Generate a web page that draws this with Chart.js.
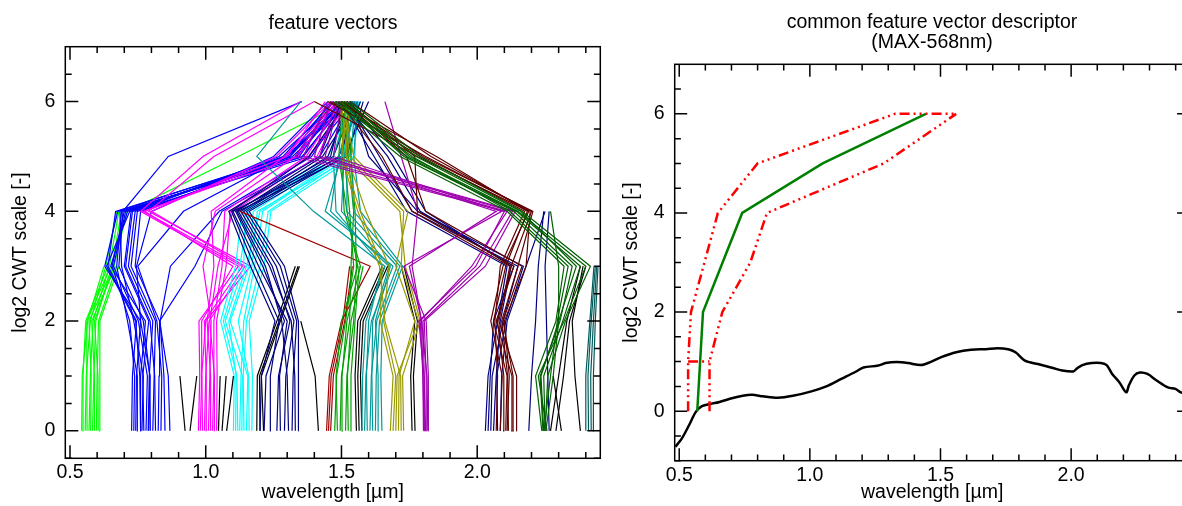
<!DOCTYPE html>
<html><head><meta charset="utf-8">
<script src="https://cdn.jsdelivr.net/npm/chart.js@4.4.1/dist/chart.umd.min.js"></script>
<style>
html,body{margin:0;padding:0;background:#fff;overflow:hidden;width:1182px;height:506px;position:relative;}
#c1{position:absolute;left:0;top:0;}
#c2{position:absolute;left:600px;top:0;}
</style></head><body>
<canvas id="c1" width="666" height="506"></canvas>
<canvas id="c2" width="664" height="506"></canvas>
<script>
// ---------- axis / tick data ----------
const xMin = 0.4827, xMax = 2.4534;
const xTickLabels = [0.5, 1.0, 1.5, 2.0];
const yTickLabels = [0, 2, 4, 6];
const levels = [0, 1, 2, 3, 4, 5, 6];

// ---------- left panel: feature vectors (x wavelength per CWT level; index = level) ----------
const limeLines = [
  [0.543,0.545,0.565,0.625],
  [0.550,0.548,0.558,0.640],
  [0.556,0.560,0.575,0.632,0.672],
  [0.563,0.562,0.562,0.650],
  [0.570,0.575,0.585,0.645,0.680],
  [0.576,0.578,0.570,0.660],
  [0.583,0.588,0.595,0.655,0.690],
  [0.590,0.590,0.580,0.668],
  [0.597,0.600,0.605,0.672],
  [0.604,0.603,0.590,0.662,0.710,1.120,1.520],
  [0.608,0.610,0.610,0.680]
];
const blueLines = [
  [0.727,0.730,0.745,0.640,0.668,1.310,1.460],
  [0.735,0.738,0.720,0.655,0.700,1.335,1.500],
  [0.742,0.745,0.760,0.628,0.676,1.300,1.520],
  [0.750,0.748,0.712,0.672,0.690,1.345,1.480],
  [0.758,0.760,0.778,0.650,0.712,1.320,1.530],
  [0.765,0.770,0.735,0.690,0.684,1.360,1.510],
  [0.772,0.768,0.790,0.700,0.725,1.290,1.540],
  [0.780,0.785,0.752,0.660,0.705,1.340,1.500],
  [0.788,0.792,0.805,0.715,0.740,1.270,1.490],
  [0.796,0.794,0.770,0.680,0.695,0.862,1.354],
  [0.805,0.810,0.815,0.725,0.748,1.355,1.520],
  [0.815,0.812,0.795,0.705,0.730,1.380,1.545],
  [0.825,0.828,0.830,0.740,0.760,1.310,1.505],
  [0.835,0.838,0.820,0.750,0.918,1.300,1.500],
  [0.850,0.846,0.832,0.870,1.050,1.390,1.520],
  [0.868,0.862,0.830,0.960,1.060,1.420,1.540],
  [0.760,0.757,0.742,0.635,0.720,1.285,1.470],
  [0.790,0.795,0.760,0.745,0.800,1.250,1.450]
];
const magentaLines = [
  [0.973,0.978,0.975,1.120,0.760,0.990,1.350],
  [0.980,0.985,1.000,1.165,0.790,1.030,1.400],
  [0.988,0.986,0.985,1.100,0.775,1.300,1.440],
  [0.995,1.000,1.012,1.145,0.800,1.260,1.460],
  [1.003,1.002,0.995,1.135,0.770,1.340,1.480],
  [1.010,1.015,1.020,0.990,1.035,1.330,1.470],
  [1.018,1.018,1.005,1.030,1.020,1.290,1.490],
  [1.025,1.030,1.030,1.060,1.070,1.370,1.500],
  [1.033,1.032,1.015,1.045,1.100,1.410,1.510],
  [1.040,1.042,1.040,1.075,1.090,1.380,1.530]
];
const cyanLines = [
  [1.102,1.105,1.055,1.110,1.133,1.500,1.560],
  [1.110,1.112,1.085,1.150,1.200,1.505,1.550],
  [1.118,1.115,1.065,1.125,1.160,1.470,1.540],
  [1.125,1.130,1.140,1.180,1.210,1.515,1.530],
  [1.133,1.135,1.072,1.140,1.145,1.450,1.545],
  [1.141,1.138,1.150,1.200,1.230,1.530,1.560],
  [1.150,1.155,1.090,1.160,1.175,1.490,1.570],
  [1.160,1.158,1.120,1.170,1.190,1.545,1.565],
  [1.170,1.172,1.160,1.215,1.240,1.550,1.555]
];
const blackLines = [
  [0.924,0.905],
  [0.942,0.967],
  [1.047,1.053],
  [1.060,1.075],
  [1.077,1.102],
  [1.188,1.190,1.262,1.330],
  [1.200,1.198,1.270,1.340],
  [1.213,1.205,1.275,1.345],
  [1.415,1.403,1.350],
  [1.555,1.550,1.560,1.650],
  [1.565,1.560,1.570,1.660],
  [1.575,1.570,1.580,1.670],
  [1.760,1.755,1.770,1.720],
  [1.771,1.765,1.780,1.730],
  [2.270,2.300,2.330,2.380],
  [2.290,2.318,2.340,2.400],
  [2.310,2.280],
  [2.380,2.360,2.350,2.390]
];
const navyLines = [
  [1.200,1.205,1.255,1.165,1.085,1.420,1.500],
  [1.215,1.222,1.290,1.210,1.110,1.460,1.510],
  [1.240,1.238,1.270,1.180,1.095,1.380,1.520],
  [1.262,1.268,1.310,1.245,1.130,1.450,1.530],
  [1.275,1.272,1.300,1.195,1.100,1.500,1.540],
  [1.290,1.295,1.325,1.260,1.140,1.470,1.550],
  [1.305,1.300,1.280,1.220,1.115,1.430,1.560],
  [1.318,1.322,1.335,1.275,1.150,1.490,1.570],
  [1.330,1.328,1.315,1.235,1.120,1.520,1.580],
  [1.341,1.342,1.341,1.290,1.160,1.510,1.600],
  [2.030,2.040,2.075,2.110,1.740,1.620,1.500],
  [2.040,2.048,2.060,2.135,1.790,1.670,1.510],
  [2.050,2.055,2.095,2.150,1.760,1.640,1.520],
  [2.060,2.070,2.085,2.125,1.810,1.690,1.530],
  [2.075,2.072,2.105,2.170,1.780,1.600,1.540],
  [2.085,2.090,2.110,2.180,2.250],
  [2.190,2.200,2.215,2.225,2.245],
  [2.265,2.260,2.255,2.250,2.265]
];
const darkRedLines = [
  [1.445,1.455,1.500,1.606,1.126],
  [1.452,1.462,1.505,1.530],
  [1.460,1.470,1.512,1.540]
];
const greenLines = [
  [1.475,1.482,1.515,1.545,1.530,1.510,1.500],
  [1.485,1.480,1.500,1.560,1.520,1.490,1.505],
  [1.495,1.500,1.530,1.535,1.545,1.525,1.510],
  [1.505,1.502,1.520,1.570,1.510,1.500,1.515],
  [1.515,1.520,1.545,1.555,1.550,1.535,1.520],
  [1.525,1.522,1.535,1.580],
  [1.533,1.535,1.550,1.565]
];
const tealLines = [
  [1.575,1.578,1.590,1.660,1.397,1.188,1.350],
  [1.585,1.590,1.610,1.690,1.440,1.500,1.520],
  [1.595,1.592,1.600,1.650,1.480,1.470,1.530],
  [1.605,1.610,1.630,1.705,1.520,1.520,1.540],
  [1.615,1.612,1.615,1.675,1.460,1.490,1.545],
  [1.625,1.628,1.640,1.715,1.545,1.535,1.550],
  [1.637,1.635,1.625,1.680,1.500,1.510,1.555],
  [1.649,1.645,1.650,1.725,1.570,1.545,1.560]
];
const oliveLines = [
  [1.680,1.690,1.643,1.650,1.569,1.507,1.495],
  [1.690,1.700,1.655,1.675,1.590,1.520,1.500],
  [1.700,1.705,1.784,1.720,1.729,1.530,1.510],
  [1.710,1.712,1.770,1.700,1.745,1.545,1.505],
  [1.720,1.718,1.660,1.640,1.560,1.500,1.520],
  [1.729,1.725,1.790,1.735,1.715,1.515,1.530]
];
const purpleLines = [
  [1.802,1.800,1.790,1.980,2.110,1.360,1.450],
  [1.806,1.805,1.800,2.010,2.130,1.400,1.460],
  [1.810,1.804,1.785,1.995,2.100,1.330,1.470],
  [1.814,1.812,1.805,2.030,2.140,1.420,1.480],
  [1.818,1.815,1.795,1.750,2.070,1.440,1.490],
  [1.821,1.820,1.812,1.730,2.090,1.470,1.500],
  [1.805,1.800,1.795,1.760,1.780,1.720,1.660]
];
const maroonLines = [
  [2.085,2.092,2.050,2.095,2.190,1.780,1.400],
  [2.095,2.098,2.075,2.125,2.200,1.810,1.450],
  [2.105,2.110,2.060,2.105,2.185,1.850,1.480],
  [2.115,2.112,2.090,2.150,2.205,1.800,1.500],
  [2.125,2.128,2.070,2.135,1.780,1.770,1.520],
  [2.135,2.132,2.095,2.165,1.810,1.740,1.510],
  [2.146,2.145,2.080,2.120,1.760,1.650,1.490],
  [2.070,2.075,2.065,2.085,2.175,1.790,1.460],
  [2.110,2.118,2.100,2.180,2.195,1.830,1.530]
];
const darkGreenLines = [
  [2.238,2.215,2.290,2.320,2.110,1.716,1.470],
  [2.242,2.232,2.305,2.350,2.135,1.740,1.480],
  [2.246,2.270,2.295,2.335,2.120,1.760,1.490],
  [2.250,2.245,2.315,2.380,2.145,1.730,1.500],
  [2.253,2.280,2.300,2.365,2.160,1.775,1.510],
  [2.257,2.225,2.320,2.400,2.150,1.750,1.520],
  [2.250,2.260,2.325,2.417,2.165,1.790,1.530],
  [2.245,2.235,2.300,2.300,2.270]
];
const darkTealLines = [
  [2.400,2.400,2.415,2.430],
  [2.410,2.408,2.420,2.435],
  [2.420,2.418,2.428,2.440],
  [2.430,2.428,2.435,2.445]
];

// ---------- right panel ----------
const specWl = [0.485,0.509,0.537,0.563,0.587,0.623,0.651,0.694,0.743,0.779,0.820,0.878,0.935,1.006,1.063,1.120,1.177,1.205,1.262,1.290,1.333,1.376,1.425,1.461,1.503,1.560,1.617,1.674,1.717,1.759,1.787,1.823,1.873,1.930,1.965,2.008,2.022,2.043,2.079,2.114,2.136,2.157,2.185,2.211,2.221,2.242,2.263,2.292,2.327,2.370,2.399,2.420,2.450];
const specVal = [-0.72,-0.56,-0.29,-0.02,0.10,0.15,0.18,0.25,0.31,0.33,0.30,0.27,0.31,0.40,0.50,0.65,0.80,0.88,0.92,0.97,0.99,0.97,0.93,0.99,1.09,1.19,1.24,1.25,1.27,1.25,1.19,1.02,0.95,0.87,0.82,0.80,0.86,0.93,0.97,0.97,0.93,0.75,0.58,0.38,0.52,0.72,0.78,0.75,0.62,0.48,0.45,0.38,0.33];
const descWl  = [0.569,0.580,0.591,0.741,1.049,1.444];
const descLvl = [0,1,2,4,5,6];
const upperWl  = [0.534,0.534,0.545,0.648,0.800,1.326,1.560];
const upperLvl = [0,1,2,4,5,6,6];
const lowerWl  = [0.616,0.616,0.665,0.772,0.836,1.283,1.560];
const lowerLvl = [0,1,2,3,4,5,6];
const linkWl   = [0.534,0.616];
const linkLvl  = [1,1];

// ---------- helpers ----------
const FONT = "'Liberation Sans', Arial, Helvetica, sans-serif";
Chart.defaults.font.family = FONT;
Chart.defaults.font.size = 19.5;
Chart.defaults.color = '#000';

function groupDatasets(lines, color) {
  return lines.map(xs => ({
    data: xs.map((x, i) => (x === null ? null : { x: x, y: levels[i] })).filter(p => p),
    borderColor: color, backgroundColor: color, borderWidth: 1.2,
    pointRadius: 0, showLine: true, fill: false, tension: 0
  }));
}
function xy(xs, ys) { return xs.map((x, i) => ({ x: x, y: ys[i] })); }

const framePlugin = {
  id: 'frame',
  afterDatasetsDraw(chart, args, o) {
    const { ctx, chartArea: a } = chart;
    const x = chart.scales.x, y = chart.scales.y;
    ctx.save();
    ctx.strokeStyle = '#000';
    ctx.lineWidth = o.lw;
    ctx.strokeRect(a.left, a.top, a.right - a.left, a.bottom - a.top);
    ctx.beginPath();
    for (let k = 5; k <= 24; k++) {
      const v = k / 10;
      const p = x.getPixelForValue(v);
      const L = xTickLabels.includes(v) ? o.majLen : o.minLen;
      ctx.moveTo(p, a.bottom); ctx.lineTo(p, a.bottom - L);
      ctx.moveTo(p, a.top); ctx.lineTo(p, a.top + L);
    }
    for (let k = o.yk0; k <= 13; k++) {
      const v = k / 2;
      const p = y.getPixelForValue(v);
      const L = yTickLabels.includes(v) ? o.majLen : o.minLen;
      ctx.moveTo(a.left, p); ctx.lineTo(a.left + L, p);
      ctx.moveTo(a.right, p); ctx.lineTo(a.right - L, p);
    }
    ctx.stroke();
    ctx.restore();
  }
};

function makeOptions(cfg) {
  return {
    responsive: false, animation: false, devicePixelRatio: 1,
    layout: { padding: 0 },
    plugins: {
      legend: { display: false }, tooltip: { enabled: false },
      title: { display: true, text: cfg.title, color: '#000',
        font: { size: 19.5, weight: 'normal', lineHeight: '20px' },
        padding: { top: cfg.tTop, bottom: cfg.tBot } },
      frame: { majLen: cfg.majLen, minLen: cfg.minLen, lw: 1.5, yk0: cfg.yk0 }
    },
    scales: {
      x: { type: 'linear', position: 'bottom', min: xMin, max: xMax,
        afterBuildTicks: s => { s.ticks = xTickLabels.map(v => ({ value: v })); },
        afterFit: s => { s.height = cfg.xH; },
        ticks: { padding: cfg.xPad, autoSkip: false, maxRotation: 0, minRotation: 0,
          callback: v => Number(v).toFixed(1), font: { size: 19.5 }, color: '#000' },
        grid: { display: false, drawTicks: false }, border: { display: false },
        title: { display: true, text: 'wavelength [µm]', color: '#000', font: { size: 19.5 },
          padding: { top: 0, bottom: 1.8 } } },
      y: { type: 'linear', position: 'left', min: cfg.yMin, max: 7,
        afterBuildTicks: s => { s.ticks = yTickLabels.map(v => ({ value: v })); },
        afterFit: s => { s.width = cfg.yW; },
        ticks: { padding: 10, autoSkip: false, callback: v => String(v), font: { size: 19.5 }, color: '#000' },
        grid: { display: false, drawTicks: false }, border: { display: false },
        title: { display: true, text: 'log2 CWT scale [-]', color: '#000', font: { size: 19.5 },
          padding: { top: cfg.yTitlePad, bottom: 0 } } },
      yR: { type: 'linear', position: 'right', display: true,
        grid: { display: false, drawTicks: false }, border: { display: false },
        ticks: { display: false }, afterFit: s => { s.width = cfg.rW; } }
    }
  };
}

// ---------- left chart ----------
const groups = [
  [limeLines, '#00FF00'], [blueLines, '#0000FF'], [magentaLines, '#FF00FF'],
  [cyanLines, '#00FFFF'], [blackLines, '#000000'], [navyLines, '#000080'],
  [darkRedLines, '#A00000'], [greenLines, '#00A000'], [tealLines, '#009A9A'],
  [oliveLines, '#9A9A00'], [purpleLines, '#A000B0'], [maroonLines, '#600000'],
  [darkGreenLines, '#006000'], [darkTealLines, '#005A5A']
];
let leftSets = [];
groups.forEach(g => { leftSets = leftSets.concat(groupDatasets(g[0], g[1])); });
leftSets.reverse(); // later groups drawn on top

new Chart(document.getElementById('c1'), {
  type: 'scatter',
  data: { datasets: leftSets },
  options: makeOptions({ title: 'feature vectors', tTop: 14, tBot: 12.7, xH: 47.7, xPad: 2.5,
    yMin: -0.5, yW: 65.3, yTitlePad: 9.3, rW: 65.7, majLen: 13, minLen: 6.4, yk0: -1 }),
  plugins: [framePlugin]
});

// ---------- right chart ----------
const dashStyle = [10, 4, 2, 4, 2, 4, 2, 4];
new Chart(document.getElementById('c2'), {
  type: 'scatter',
  data: { datasets: [
    { data: xy(descWl, descLvl), borderColor: '#008000', borderWidth: 2.5, showLine: true, pointRadius: 0 },
    { data: xy(upperWl, upperLvl), borderColor: '#FF0000', borderWidth: 2.5, borderDash: dashStyle, showLine: true, pointRadius: 0 },
    { data: xy(lowerWl, lowerLvl), borderColor: '#FF0000', borderWidth: 2.5, borderDash: dashStyle, showLine: true, pointRadius: 0 },
    { data: xy(linkWl, linkLvl), borderColor: '#FF0000', borderWidth: 2.5, borderDash: dashStyle, showLine: true, pointRadius: 0 },
    { data: xy(specWl, specVal), borderColor: '#000000', borderWidth: 2.5, showLine: true, pointRadius: 0, tension: 0.3 }
  ] },
  options: makeOptions({ title: ['common feature vector descriptor', '(MAX-568nm)'], tTop: 13, tBot: 11.3,
    xH: 45.3, xPad: 3, yMin: -1, yW: 74.7, yTitlePad: 20.4, rW: 74.4, majLen: 12.5, minLen: 6.2, yk0: -2 }),
  plugins: [framePlugin]
});
</script>
</body></html>
